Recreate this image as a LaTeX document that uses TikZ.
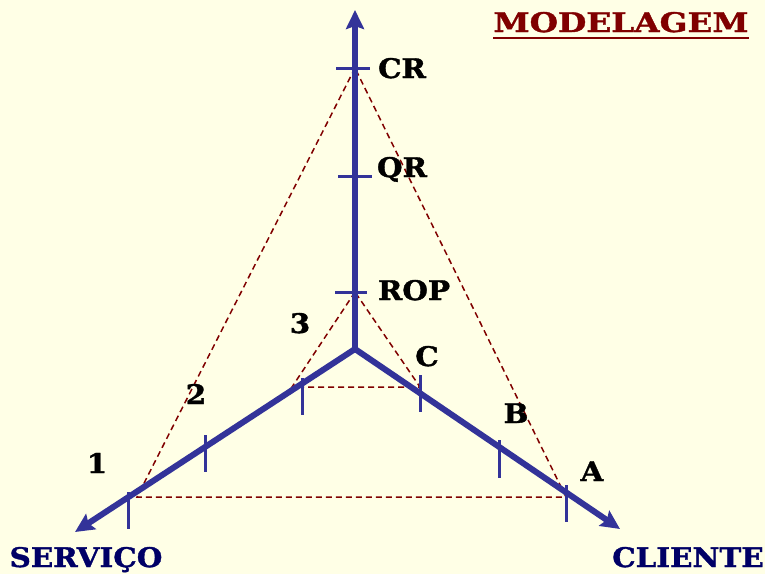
\documentclass[tikz,border=0pt]{standalone}
\usepackage{fontspec}
\setmainfont{DejaVu Serif}[BoldFeatures={FakeStretch=1.09,FakeBold=1.3}]
\usetikzlibrary{arrows.meta}
\definecolor{bg}{HTML}{FFFFE6}
\definecolor{axisblue}{HTML}{333399}
\definecolor{dred}{HTML}{800000}
\definecolor{navy}{HTML}{000066}
\tikzset{
  axis/.style={line width=6pt, draw=axisblue, -{Stealth[length=19pt,width=18pt,inset=3pt]}},
  tick/.style={line width=3pt, draw=axisblue},
  guide/.style={line width=1.5pt, draw=dred, dash pattern=on 6pt off 4pt},
  lbl/.style={anchor=base, inner sep=0pt, font=\fontsize{27}{27}\selectfont\bfseries},
}
\begin{document}
\begin{tikzpicture}[x=1pt,y=-1pt]
\fill[bg] (0,0) rectangle (765,574);
\useasboundingbox (0,0) rectangle (765,574);
% points
\coordinate (O) at (355,349);
\coordinate (Ttip) at (355,10);
\coordinate (Ltip) at (75,532);
\coordinate (Rtip) at (620,529);
\coordinate (CR) at (355,68);
\coordinate (QR) at (355,176);
\coordinate (ROP) at (355,292);
\coordinate (P1) at (137,497);
\coordinate (PA) at (566,497);
\coordinate (P3) at (292,387);
\coordinate (PC) at (420,387);
% dashed triangles
\draw[guide] (CR) -- (P1) -- (PA) -- cycle;
\draw[guide] (ROP) -- (P3) -- (PC) -- cycle;
% axes
\draw[axis] (O) -- (Ttip);
\draw[axis] (O) -- (Ltip);
\draw[axis] (O) -- (Rtip);
% ticks on vertical axis
\draw[tick] ([xshift=-19pt]CR) -- ([xshift=15pt]CR);
\draw[tick] ([xshift=-17pt]QR) -- ([xshift=17pt]QR);
\draw[tick] ([xshift=-20pt]ROP) -- ([xshift=12pt]ROP);
% ticks on left axis
\coordinate (t1a) at (128,492); \coordinate (t1b) at (128,529);
\coordinate (t2a) at (205,435); \coordinate (t2b) at (205,472);
\coordinate (t3a) at (302,378); \coordinate (t3b) at (302,415);
\draw[tick] (t1a) -- (t1b);
\draw[tick] (t2a) -- (t2b);
\draw[tick] (t3a) -- (t3b);
% ticks on right axis
\coordinate (tca) at (420,375); \coordinate (tcb) at (420,412);
\coordinate (tba) at (499,440); \coordinate (tbb) at (499,478);
\coordinate (taa) at (566,485); \coordinate (tab) at (566,522);
\draw[tick] (tca) -- (tcb);
\draw[tick] (tba) -- (tbb);
\draw[tick] (taa) -- (tab);
% labels
\node[lbl] (lCR) at (402,78) {CR};
\node[lbl] (lQR) at (402,177) {QR};
\node[lbl] (lROP) at (414,300) {ROP};
\node[lbl] (l1) at (97,473) {1};
\node[lbl] (l2) at (196,404) {2};
\node[lbl] (l3) at (300,333) {3};
\node[lbl] (lC) at (427,366) {C};
\node[lbl] (lB) at (516,423) {B};
\node[lbl] (lA) at (592,481) {A};
\node[lbl, text=dred] (title) at (621,32) {\scalebox{1.11}[1]{MODELAGEM}};
\draw[dred, line width=2.5pt] ([yshift=-6pt]title.base west) -- ([yshift=-6pt]title.base east);
\node[lbl, text=navy] (serv) at (86,567) {SERVIÇO};
\node[lbl, text=navy] (cli) at (688,567) {CLIENTE};
\end{tikzpicture}
\end{document}
